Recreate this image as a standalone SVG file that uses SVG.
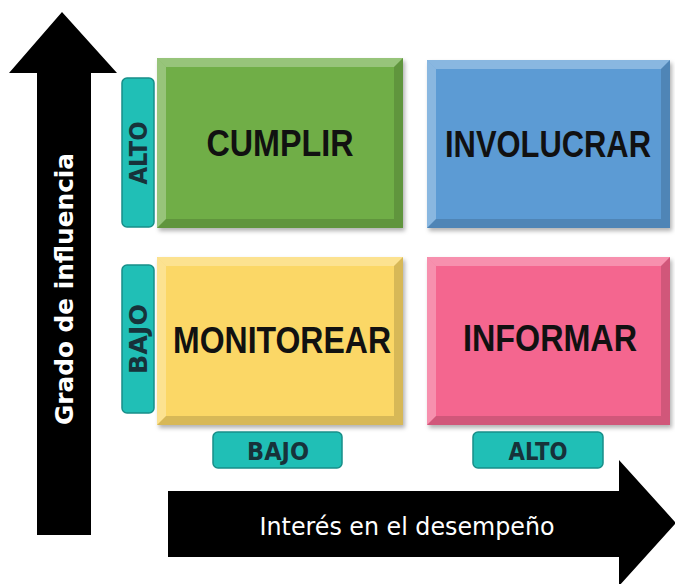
<svg xmlns="http://www.w3.org/2000/svg" width="675" height="584" viewBox="0 0 675 584">
<defs>
<style>
.box-title{font-family:"Liberation Sans",Arial,sans-serif;font-weight:700;font-size:37px;fill:#111;text-anchor:middle}
.tag{fill:#20bfb6;stroke:#178f89;stroke-width:1.5}
.tag-text{font-family:"DejaVu Sans","Open Sans",sans-serif;font-weight:700;font-size:24px;fill:#17323a;text-anchor:middle}
.axis-text{font-family:"DejaVu Sans","Open Sans",sans-serif;font-size:24px;fill:#fff;text-anchor:middle}
.hi{fill:#fff;opacity:0.28}
.lo{fill:#000;opacity:0.14}
</style>
<filter id="sh" x="-5%" y="-5%" width="112%" height="115%">
<feDropShadow dx="2" dy="3" stdDeviation="2" flood-color="#000" flood-opacity="0.3"/>
</filter>
</defs>
<rect width="675" height="584" fill="#fff"/>

<g id="connectors">
<polygon id="axis-y" points="62,12 117,73 91,73 91,535 37,535 37,73 9,73" fill="#000"/>
<polygon id="axis-x" points="168,491 619,491 619,460 676,523 619,586 619,557 168,557" fill="#000"/>
</g>

<g id="label-axis-y">
<text class="axis-text" font-weight="700" transform="translate(73,289) rotate(-90)" textLength="272" lengthAdjust="spacingAndGlyphs">Grado de influencia</text>
</g>
<g id="label-axis-x">
<text class="axis-text" x="407" y="535" textLength="295" lengthAdjust="spacingAndGlyphs">Interés en el desempeño</text>
</g>

<g id="node-cumplir">
<rect x="157" y="58" width="246" height="170" fill="#6fae46" filter="url(#sh)"/>
<polygon class="hi" points="157,58 403,58 394,67 166,67"/>
<polygon class="hi" points="157,58 166,67 166,219 157,228" opacity="0.15"/>
<polygon class="lo" points="403,58 403,228 394,219 394,67"/>
<polygon class="lo" points="157,228 403,228 394,219 166,219"/>
<text class="box-title" x="280" y="156" textLength="147" lengthAdjust="spacingAndGlyphs">CUMPLIR</text>
</g>

<g id="node-involucrar">
<rect x="427" y="60" width="243" height="168" fill="#5c9bd4" filter="url(#sh)"/>
<polygon class="hi" points="427,60 670,60 661,69 436,69"/>
<polygon class="hi" points="427,60 436,69 436,219 427,228" opacity="0.15"/>
<polygon class="lo" points="670,60 670,228 661,219 661,69"/>
<polygon class="lo" points="427,228 670,228 661,219 436,219"/>
<text class="box-title" style="font-size:34px" transform="translate(548,157) scale(1,1.09)" textLength="206" lengthAdjust="spacingAndGlyphs">INVOLUCRAR</text>
</g>

<g id="node-monitorear">
<rect x="157" y="257" width="246" height="168" fill="#fbd766" filter="url(#sh)"/>
<polygon class="hi" points="157,257 403,257 394,266 166,266"/>
<polygon class="hi" points="157,257 166,266 166,416 157,425" opacity="0.15"/>
<polygon class="lo" points="403,257 403,425 394,416 394,266" opacity="0.1"/>
<polygon class="lo" points="157,425 403,425 394,416 166,416" opacity="0.1"/>
<text class="box-title" x="282" y="353" textLength="218" lengthAdjust="spacingAndGlyphs">MONITOREAR</text>
</g>

<g id="node-informar">
<rect x="427" y="257" width="243" height="168" fill="#f4668f" filter="url(#sh)"/>
<polygon class="hi" points="427,257 670,257 661,266 436,266"/>
<polygon class="hi" points="427,257 436,266 436,416 427,425" opacity="0.15"/>
<polygon class="lo" points="670,257 670,425 661,416 661,266"/>
<polygon class="lo" points="427,425 670,425 661,416 436,416"/>
<text class="box-title" x="550" y="351" textLength="174" lengthAdjust="spacingAndGlyphs">INFORMAR</text>
</g>

<g id="tag-y-alto">
<rect class="tag" x="122" y="78" width="32" height="149" rx="5"/>
<text class="tag-text" transform="translate(147,153) rotate(-90)" textLength="63" lengthAdjust="spacingAndGlyphs">ALTO</text>
</g>
<g id="tag-y-bajo">
<rect class="tag" x="122" y="265" width="32" height="148" rx="5"/>
<text class="tag-text" transform="translate(147,339) rotate(-90)" textLength="70" lengthAdjust="spacingAndGlyphs">BAJO</text>
</g>
<g id="tag-x-bajo">
<rect class="tag" x="213" y="432" width="129" height="36" rx="5"/>
<text class="tag-text" x="278" y="460" textLength="62" lengthAdjust="spacingAndGlyphs">BAJO</text>
</g>
<g id="tag-x-alto">
<rect class="tag" x="473" y="432" width="130" height="36" rx="5"/>
<text class="tag-text" x="538" y="460" textLength="59" lengthAdjust="spacingAndGlyphs">ALTO</text>
</g>
</svg>
